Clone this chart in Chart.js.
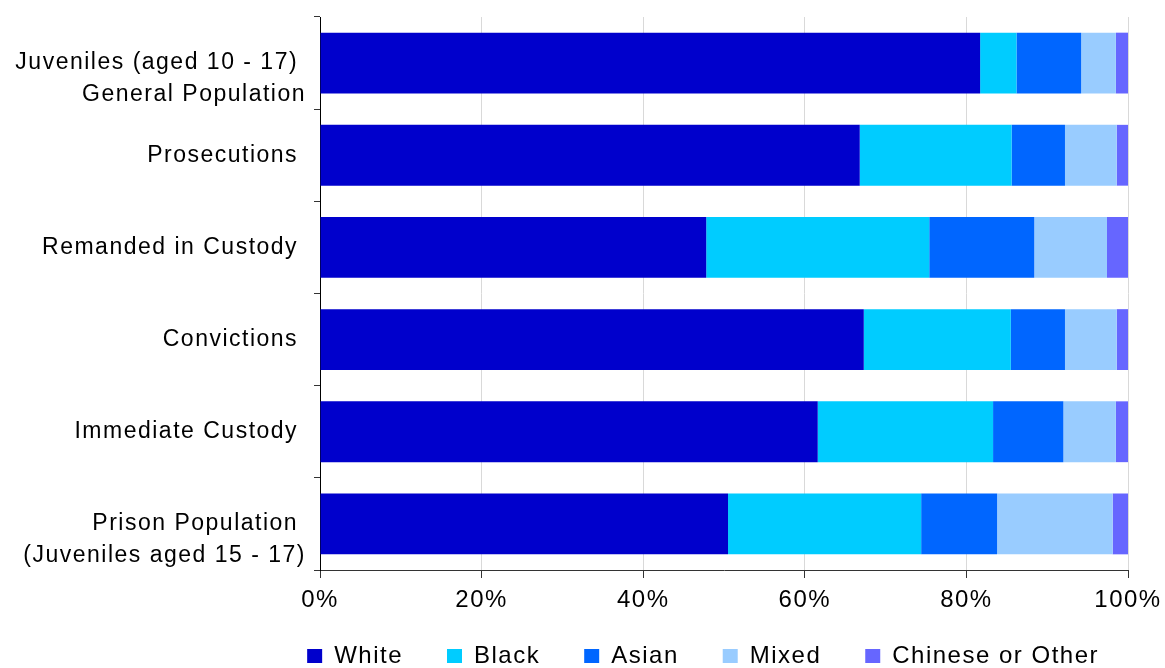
<!DOCTYPE html>
<html>
<head>
<meta charset="utf-8">
<script src="https://cdn.jsdelivr.net/npm/chart.js@4/dist/chart.umd.min.js"></script>
<style>
html,body{margin:0;padding:0;background:#fff;}
#wrap{width:1165px;height:668px;position:relative;}
</style>
</head>
<body>
<div id="wrap"><canvas id="c"></canvas></div>
<script>
// ---- data ----
const categories = [
  ['Juveniles (aged 10 - 17) ', 'General Population'],
  'Prosecutions ',
  'Remanded in Custody ',
  'Convictions ',
  'Immediate Custody ',
  ['Prison Population ', '(Juveniles aged 15 - 17)']
];
const seriesNames = ['White', 'Black', 'Asian', 'Mixed', 'Chinese or Other'];
const white = [81.7, 66.8, 47.8, 67.3, 61.6, 50.5];
const black = [4.5, 18.8, 27.6, 18.2, 21.7, 23.9];
const asian = [8.0, 6.6, 13.0, 6.7, 8.7, 9.4];
const mixed = [4.3, 6.4, 9.0, 6.4, 6.5, 14.3];
const other = [1.5, 1.4, 2.6, 1.4, 1.5, 1.9];
const xTickValues = [0, 20, 40, 60, 80, 100];

// ---- styles ----
const colors = ['#0000CC', '#00CCFF', '#0066FF', '#99CCFF', '#6666FF'];
const FONT = '"Liberation Sans", Arial, Helvetica, sans-serif';
Chart.defaults.font.family = FONT;
Chart.defaults.color = '#000';

const seriesValues = [white, black, asian, mixed, other];
const datasets = seriesNames.map((name, i) => ({
  label: name,
  data: seriesValues[i],
  backgroundColor: colors[i],
  borderWidth: 0,
  barPercentage: 1.0,
  categoryPercentage: 0.66
}));

const spacingPlugin = {
  id: 'spacing',
  beforeUpdate(c) { c.ctx.letterSpacing = '1.5px'; },
  beforeLayout(c) { c.ctx.letterSpacing = '1.5px'; },
  beforeDraw(c) { c.ctx.letterSpacing = '1.5px'; }
};

new Chart(document.getElementById('c'), {
  type: 'bar',
  data: { labels: categories, datasets },
  plugins: [spacingPlugin],
  options: {
    indexAxis: 'y',
    responsive: true,
    maintainAspectRatio: false,
    animation: false,
    devicePixelRatio: 1,
    layout: { padding: { left: 0, right: 22, top: 17, bottom: -10 } },
    scales: {
      x: {
        stacked: true,
        min: 0,
        max: 100,
        afterBuildTicks: s => { s.ticks = xTickValues.map(v => ({ value: v })); },
        afterFit: s => {
          s.height = 30;
          s.paddingLeft = 0;
          s.paddingRight = 37;
          s._computeLabelArea = () => null; // let tick labels extend below the axis box
        },
        grid: { color: '#d9d9d9', lineWidth: 1, tickColor: '#333', tickLength: 8 },
        border: { display: true, color: '#333', width: 1 },
        ticks: {
          padding: 8,
          font: { size: 24 },
          color: '#000',
          autoSkip: false,
          maxRotation: 0,
          callback: v => v + '%'
        }
      },
      y: {
        stacked: true,
        afterFit: s => { s.width = 320; s.paddingTop = 0; s.paddingBottom = 0; },
        grid: { offset: true, drawOnChartArea: false, color: '#333', tickColor: '#333', tickLength: 6 },
        border: { display: true, color: '#000', width: 1 },
        ticks: {
          padding: 8,
          autoSkip: false,
          font: { size: 23, lineHeight: 1.38 },
          color: '#000',
          callback: function (v) {
            const l = this.getLabelForValue(v);
            return Array.isArray(l) ? [''].concat(l) : l;
          }
        }
      }
    },
    plugins: {
      tooltip: { enabled: false },
      legend: {
        position: 'bottom',
        align: 'end',
        labels: {
          boxWidth: 15,
          boxHeight: 14,
          padding: 44,
          color: '#000',
          font: { size: 24 }
        }
      }
    }
  }
});
</script>
</body>
</html>
